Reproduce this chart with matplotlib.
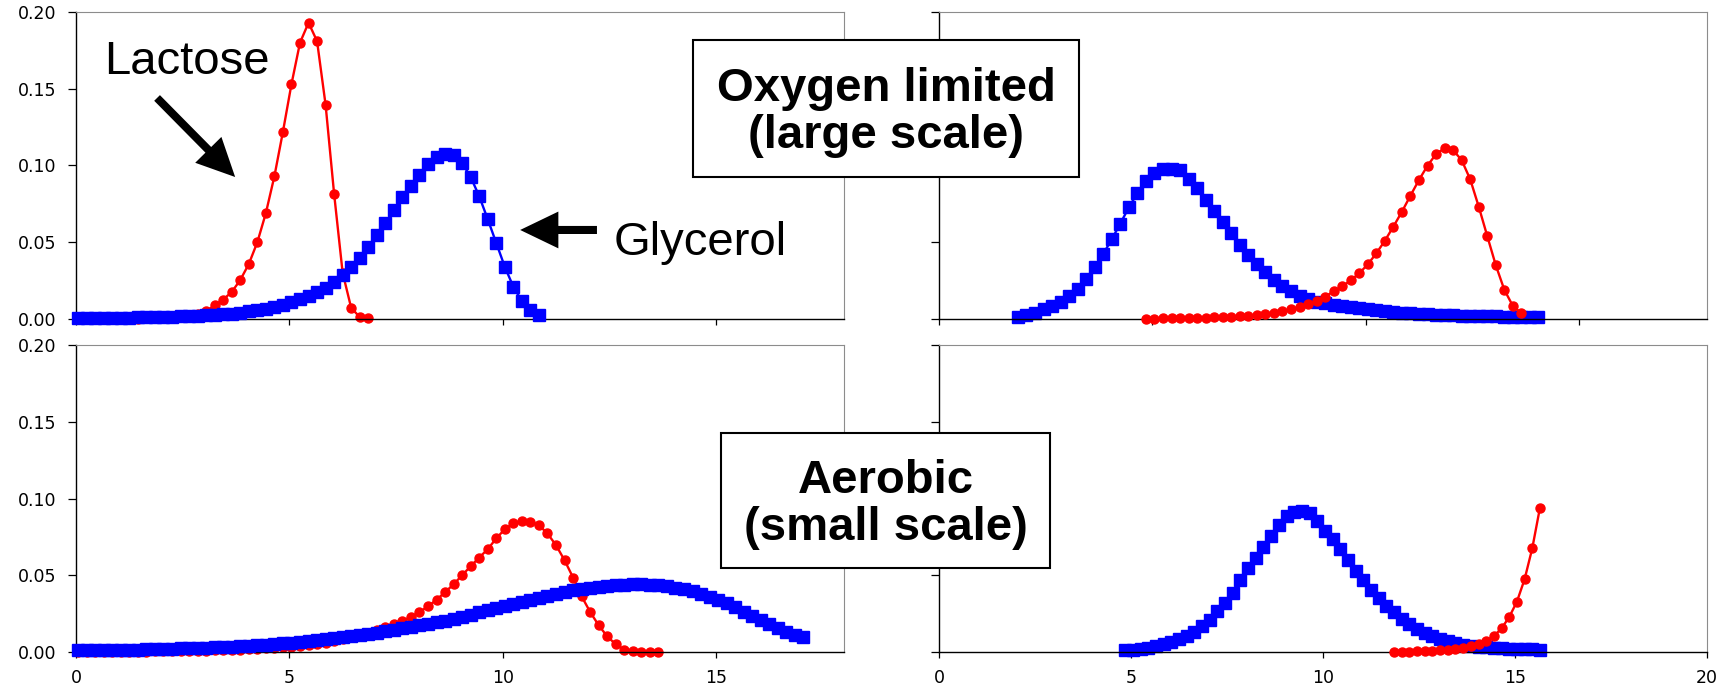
import numpy as np
import matplotlib
matplotlib.use('Agg')
import matplotlib.pyplot as plt
from matplotlib.patches import Rectangle

# all series are sampled on the same 0.2 grid; each one starts at its own x0
step = 0.2

# top row, left
tl_lac_x0 = 0.05
tl_lac = [0.0000, 0.0000, 0.0001, 0.0001, 0.0001, 0.0002, 0.0002, 0.0003, 0.0004, 0.0005,
          0.0007, 0.0010, 0.0014, 0.0020, 0.0032, 0.0052, 0.0088, 0.0127, 0.0176, 0.0254,
          0.0358, 0.0500, 0.0690, 0.0930, 0.1220, 0.1530, 0.1800, 0.1930, 0.1810, 0.1395,
          0.0814, 0.0300, 0.0072, 0.0013, 0.0004]
tl_gly_x0 = 0.05
tl_gly = [0.0005, 0.0006, 0.0006, 0.0007, 0.0008, 0.0008, 0.0009, 0.0010, 0.0011, 0.0012,
          0.0014, 0.0015, 0.0017, 0.0019, 0.0021, 0.0024, 0.0027, 0.0031, 0.0035, 0.0041,
          0.0049, 0.0058, 0.0068, 0.0079, 0.0092, 0.0108, 0.0128, 0.0150, 0.0176, 0.0205,
          0.0240, 0.0285, 0.0340, 0.0400, 0.0470, 0.0545, 0.0625, 0.0710, 0.0795, 0.0868,
          0.0940, 0.1010, 0.1055, 0.1075, 0.1068, 0.1016, 0.0925, 0.0800, 0.0650, 0.0495,
          0.0340, 0.0210, 0.0117, 0.0060, 0.0026]

# top row, right
tr_lac_x0 = 4.85
tr_lac = [0.0003, 0.0003, 0.0004, 0.0004, 0.0005, 0.0006, 0.0007, 0.0008, 0.0010, 0.0012,
          0.0015, 0.0018, 0.0022, 0.0027, 0.0033, 0.0041, 0.0050, 0.0062, 0.0077, 0.0096,
          0.0118, 0.0146, 0.0180, 0.0212, 0.0252, 0.0298, 0.0356, 0.0428, 0.0510, 0.0602,
          0.0699, 0.0804, 0.0906, 0.0999, 0.1075, 0.1112, 0.1100, 0.1035, 0.0910, 0.0732,
          0.0540, 0.0350, 0.0190, 0.0085, 0.0037]
tr_gly_x0 = 1.85
tr_gly = [0.0015, 0.0026, 0.0041, 0.0062, 0.0086, 0.0113, 0.0150, 0.0198, 0.0262, 0.0340,
          0.0424, 0.0520, 0.0622, 0.0727, 0.0820, 0.0898, 0.0948, 0.0977, 0.0980, 0.0968,
          0.0910, 0.0852, 0.0778, 0.0702, 0.0635, 0.0560, 0.0484, 0.0417, 0.0357, 0.0306,
          0.0257, 0.0215, 0.0181, 0.0150, 0.0130, 0.0114, 0.0101, 0.0092, 0.0085, 0.0077,
          0.0069, 0.0062, 0.0056, 0.0050, 0.0045, 0.0041, 0.0037, 0.0034, 0.0031, 0.0028,
          0.0026, 0.0024, 0.0022, 0.0020, 0.0019, 0.0018, 0.0017, 0.0016, 0.0015, 0.0014,
          0.0013, 0.0012]

# bottom row, left
bl_lac_x0 = 0.05
bl_lac = [0.0001, 0.0001, 0.0001, 0.0001, 0.0002, 0.0002, 0.0002, 0.0003, 0.0003, 0.0004,
          0.0004, 0.0005, 0.0006, 0.0007, 0.0008, 0.0009, 0.0010, 0.0012, 0.0013, 0.0015,
          0.0017, 0.0020, 0.0023, 0.0026, 0.0030, 0.0035, 0.0040, 0.0046, 0.0053, 0.0061,
          0.0071, 0.0082, 0.0095, 0.0110, 0.0127, 0.0146, 0.0166, 0.0184, 0.0203, 0.0228,
          0.0259, 0.0298, 0.0340, 0.0390, 0.0441, 0.0500, 0.0559, 0.0615, 0.0670, 0.0740,
          0.0800, 0.0838, 0.0852, 0.0850, 0.0826, 0.0772, 0.0696, 0.0598, 0.0485, 0.0363,
          0.0261, 0.0174, 0.0102, 0.0050, 0.0015, 0.0004, 0.0001, 0.0000, 0.0000]
bl_gly_x0 = 0.05
bl_gly = [0.0011, 0.0012, 0.0012, 0.0013, 0.0013, 0.0014, 0.0015, 0.0016, 0.0017, 0.0019,
          0.0020, 0.0021, 0.0023, 0.0024, 0.0026, 0.0028, 0.0030, 0.0032, 0.0035, 0.0038,
          0.0041, 0.0044, 0.0048, 0.0052, 0.0056, 0.0061, 0.0066, 0.0071, 0.0076, 0.0082,
          0.0088, 0.0095, 0.0102, 0.0110, 0.0118, 0.0127, 0.0137, 0.0146, 0.0155, 0.0164,
          0.0173, 0.0183, 0.0193, 0.0204, 0.0216, 0.0229, 0.0243, 0.0258, 0.0274, 0.0289,
          0.0302, 0.0315, 0.0328, 0.0341, 0.0354, 0.0368, 0.0381, 0.0392, 0.0402, 0.0411,
          0.0419, 0.0426, 0.0432, 0.0436, 0.0439, 0.0441, 0.0441, 0.0439, 0.0434, 0.0428,
          0.0419, 0.0408, 0.0395, 0.0378, 0.0360, 0.0340, 0.0318, 0.0290, 0.0263, 0.0235,
          0.0207, 0.0180, 0.0155, 0.0132, 0.0114, 0.0098]

# bottom row, right
br_lac_x0 = 11.85
br_lac = [0.0002, 0.0002, 0.0003, 0.0004, 0.0005, 0.0007, 0.0010, 0.0014, 0.0019, 0.0026,
          0.0036, 0.0050, 0.0072, 0.0104, 0.0154, 0.0228, 0.0328, 0.0474, 0.0676, 0.0940]
br_gly_x0 = 4.85
br_gly = [0.0010, 0.0014, 0.0019, 0.0026, 0.0036, 0.0050, 0.0065, 0.0083, 0.0106, 0.0132,
          0.0167, 0.0210, 0.0265, 0.0317, 0.0387, 0.0470, 0.0550, 0.0612, 0.0682, 0.0757,
          0.0830, 0.0888, 0.0912, 0.0920, 0.0905, 0.0855, 0.0790, 0.0735, 0.0672, 0.0600,
          0.0530, 0.0468, 0.0407, 0.0353, 0.0298, 0.0258, 0.0218, 0.0181, 0.0149, 0.0123,
          0.0102, 0.0083, 0.0070, 0.0058, 0.0048, 0.0040, 0.0035, 0.0030, 0.0026, 0.0023,
          0.0021, 0.0019, 0.0018, 0.0017, 0.0016]

y_ticks = [0.0, 0.05, 0.10, 0.15, 0.20]
y_tick_labels = ['0.00', '0.05', '0.10', '0.15', '0.20']

W, H = 1734, 690
fig = plt.figure(figsize=(W / 100, H / 100), dpi=100)


def px_axes(left, top, width, height):
    return fig.add_axes([left / W, 1 - (top + height) / H, width / W, height / H])


def grid(x0, ys):
    return x0 + step * np.arange(len(ys))


def panel(ax, lac_x0, lac, gly_x0, gly, xmax, xticks, xlabels, ylabels, blue_on_top):
    z_red, z_blue = (2, 3) if blue_on_top else (3, 2)
    ax.plot(grid(lac_x0, lac), lac, color='#ff0000', lw=1.7, marker='o', ms=6.5,
            mec='#ff0000', mfc='#ff0000', clip_on=False, zorder=z_red)
    ax.plot(grid(gly_x0, gly), gly, color='#0000ff', lw=1.7, marker='s', ms=8,
            mec='#0000ff', mfc='#0000ff', clip_on=False, zorder=z_blue)
    ax.set_xlim(0, xmax)
    ax.set_ylim(0, 0.20)
    ax.set_xticks(xticks)
    ax.set_yticks(y_ticks)
    if xlabels:
        ax.set_xticklabels([str(t) for t in xticks])
    else:
        ax.set_xticklabels([])
    if ylabels:
        ax.set_yticklabels(y_tick_labels)
    else:
        ax.set_yticklabels([])
    for side in ('left', 'bottom'):
        ax.spines[side].set_color('black')
        ax.spines[side].set_linewidth(1.0)
    for side in ('top', 'right'):
        ax.spines[side].set_color('#8c8c8c')
        ax.spines[side].set_linewidth(0.8)
    ax.tick_params(axis='y', direction='out', length=5.8, width=0.9, pad=8, labelsize=12.5)
    ax.tick_params(axis='x', direction='out', length=4, width=0.9, pad=8, labelsize=12.5)
    ax.set_facecolor('white')


ax_tl = px_axes(76, 12, 768, 307)
ax_tr = px_axes(939, 12, 768, 307)
ax_bl = px_axes(76, 345, 768, 307)
ax_br = px_axes(939, 345, 768, 307)

panel(ax_tl, tl_lac_x0, tl_lac, tl_gly_x0, tl_gly, 18, [0, 5, 10, 15], False, True, True)
panel(ax_tr, tr_lac_x0, tr_lac, tr_gly_x0, tr_gly, 18, [0, 5, 10, 15], False, False, False)
panel(ax_bl, bl_lac_x0, bl_lac, bl_gly_x0, bl_gly, 18, [0, 5, 10, 15], True, True, True)
panel(ax_br, br_lac_x0, br_lac, br_gly_x0, br_gly, 20, [0, 5, 10, 15, 20], True, False, False)

# labels and arrows for the two substrates
arrow = 'simple,head_length=2.75,head_width=2.65,tail_width=0.58'
ax_tl.text(2.61, 0.1596, 'Lactose', ha='center', va='baseline', fontsize=34,
           family='Liberation Sans')
ax_tl.annotate('', xy=(3.73, 0.0925), xytext=(1.90, 0.144),
               arrowprops=dict(arrowstyle=arrow, mutation_scale=10, fc='black',
                               ec='black', lw=0, shrinkA=0, shrinkB=0))
ax_tl.text(14.62, 0.0417, 'Glycerol', ha='center', va='baseline', fontsize=34,
           family='Liberation Sans')
ax_tl.annotate('', xy=(10.41, 0.058), xytext=(12.21, 0.058),
               arrowprops=dict(arrowstyle=arrow, mutation_scale=10, fc='black',
                               ec='black', lw=0, shrinkA=0, shrinkB=0))


def boxed_title(left, top, right, bottom, text):
    fig.add_artist(Rectangle((left / W, 1 - bottom / H), (right - left) / W, (bottom - top) / H,
                             transform=fig.transFigure, fc='white', ec='black', lw=1.5,
                             zorder=5))
    fig.text((left + right) / 2 / W, 1 - ((top + bottom) / 2 + 4) / H, text,
             ha='center', va='center', multialignment='center', fontsize=34,
             fontweight='bold', family='Liberation Sans', linespacing=1.1, zorder=6)


boxed_title(693, 40, 1079, 177, 'Oxygen limited\n(large scale)')
boxed_title(721, 433, 1050, 568, 'Aerobic\n(small scale)')

fig.savefig('out.png', dpi=100, facecolor='white')
